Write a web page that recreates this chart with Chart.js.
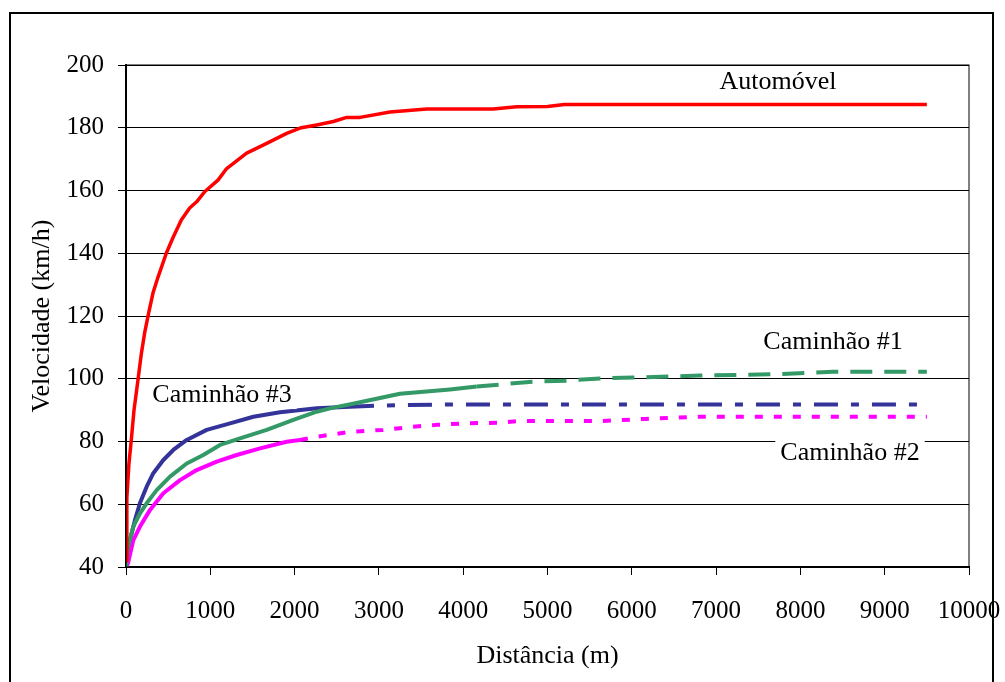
<!DOCTYPE html>
<html>
<head>
<meta charset="utf-8">
<script src="https://cdn.jsdelivr.net/npm/chart.js@4"></script>
<style>
  html, body { margin: 0; padding: 0; background: #fff; }
  #speedChart { display: block; }
</style>
</head>
<body>
<canvas id="speedChart" width="1005" height="682"></canvas>
<script>
// Velocidade x distância: automóvel e três caminhões
const autoDist  = [0, 10, 35, 63, 95, 142, 182, 221, 269, 320, 380, 478, 558, 656, 755, 838, 933, 1091, 1194, 1431, 1669, 1906, 2064, 2262, 2460, 2618, 2776, 3132, 3567, 4354, 4634, 5000, 5200, 9500];
const autoSpeed = [42, 62, 73, 80.5, 90, 99.6, 108, 114.6, 121, 127.3, 132.4, 140, 145, 150.6, 154.4, 156.4, 159.6, 163.3, 167, 171.9, 175, 178.2, 179.9, 180.9, 182, 183.3, 183.3, 185, 186, 186, 186.7, 186.8, 187.4, 187.4];

const cam1Dist  = [0, 20, 87, 166, 245, 364, 522, 720, 917, 1115, 1352, 1669, 1985, 2262, 2457, 2650, 3250, 3843, 4160, 4832, 5228, 5623, 6020, 6809, 7758, 8387, 9500];
const cam1Speed = [40, 46, 52.9, 57.1, 60.3, 64.5, 68.8, 73, 75.7, 78.9, 81, 83.7, 86.9, 89.5, 90.8, 91.8, 95.2, 96.6, 97.5, 99.1, 99.4, 100.1, 100.4, 101, 101.5, 102.2, 102.2];

const cam2Dist  = [5, 25, 87, 166, 285, 443, 641, 838, 1076, 1313, 1590, 1906, 2064, 2262, 2657, 3050, 3405, 3685, 4041, 4437, 4634, 5623, 6157, 6809, 9500];
const cam2Speed = [40, 41.3, 48.6, 52.9, 58.2, 63.5, 67.7, 70.9, 73.6, 75.7, 77.8, 79.9, 80.5, 81.5, 83.1, 83.7, 84.7, 85.3, 85.8, 86, 86.5, 86.5, 87.2, 87.9, 87.9];

const cam3Dist  = [0, 20, 47, 107, 166, 245, 324, 443, 561, 720, 957, 1234, 1511, 1827, 2262, 2657, 3200, 3900, 9500];
const cam3Speed = [40, 45, 48.6, 55, 60.4, 65.6, 69.9, 74.1, 77.3, 80.5, 83.7, 85.8, 87.9, 89.3, 90.6, 91.1, 91.6, 91.8, 91.8];

// rótulos escritos dentro do gráfico
const labelTexts = ["Automóvel", "Caminhão #1", "Caminhão #3", "Caminhão #2"];
const labelDist  = [7734, 8387, 1139, 8588];
const labelSpeed = [194.6, 111.7, 94.8, 76.3];

const yTicks = [40, 60, 80, 100, 120, 140, 160, 180, 200];
const xTicks = [0, 1000, 2000, 3000, 4000, 5000, 6000, 7000, 8000, 9000, 10000];

const FONT = "'Liberation Serif', 'Times New Roman', serif";

function toPoints(xs, ys) {
  return xs.map((x, i) => ({ x, y: ys[i] }));
}

// trecho inicial contínuo, tracejado a partir de "from"
function dashAfter(from, dash) {
  return ctx => (ctx.p0.parsed.x >= from ? dash : undefined);
}

const chartText = {
  id: "chartText",
  beforeDraw(chart) {
    const c = chart.ctx;
    c.save();
    c.fillStyle = "#fff";
    c.fillRect(0, 0, chart.width, chart.height);
    c.restore();
  },
  afterDatasetsDraw(chart) {
    const c = chart.ctx;
    const { x, y } = chart.scales;
    c.save();
    c.font = "26px " + FONT;
    c.textAlign = "center";
    c.textBaseline = "middle";
    labelTexts.forEach((t, i) => {
      const px = x.getPixelForValue(labelDist[i]);
      const py = y.getPixelForValue(labelSpeed[i]);
      const w = c.measureText(t).width;
      c.fillStyle = "#fff";
      c.fillRect(px - w / 2 - 5, py - 14, w + 10, 28);
      c.fillStyle = "#000";
      c.fillText(t, px, py);
    });
    c.restore();
  },
  afterDraw(chart) {
    const c = chart.ctx;
    const a = chart.chartArea;
    c.save();
    c.strokeStyle = "#000";
    c.lineWidth = 1;
    c.strokeRect(a.left, a.top, a.right - a.left, a.bottom - a.top);
    // moldura externa
    c.lineWidth = 2;
    c.strokeRect(10, 13, 983, 700);
    c.restore();
  }
};

new Chart(document.getElementById("speedChart"), {
  type: "line",
  data: {
    datasets: [
      {
        label: "Automóvel",
        data: toPoints(autoDist, autoSpeed),
        borderColor: "#ff0000",
        borderWidth: 3.5
      },
      {
        label: "Caminhão #1",
        data: toPoints(cam1Dist, cam1Speed),
        borderColor: "#339966",
        borderWidth: 4,
        segment: { borderDash: dashAfter(4000, [22, 12]) }
      },
      {
        label: "Caminhão #2",
        data: toPoints(cam2Dist, cam2Speed),
        borderColor: "#ff00ff",
        borderWidth: 4,
        segment: { borderDash: dashAfter(2000, [8, 11]) }
      },
      {
        label: "Caminhão #3",
        data: toPoints(cam3Dist, cam3Speed),
        borderColor: "#333399",
        borderWidth: 4,
        segment: { borderDash: dashAfter(2600, [24, 13, 8, 13]) }
      }
    ]
  },
  options: {
    responsive: false,
    animation: false,
    events: [],
    layout: { padding: { top: 65, right: 36, left: 0, bottom: 0 } },
    elements: {
      point: { radius: 0 },
      line: { tension: 0, borderDash: [], borderCapStyle: "butt", borderJoinStyle: "round" }
    },
    plugins: {
      legend: { display: false },
      tooltip: { enabled: false }
    },
    scales: {
      x: {
        type: "linear",
        min: 0,
        max: 10000,
        afterBuildTicks: s => { s.ticks = xTicks.map(v => ({ value: v })); },
        afterFit: s => { s.height = 115; s.paddingLeft = 0; s.paddingRight = 0; },
        ticks: { color: "#000", font: { family: FONT, size: 25 }, padding: 21, maxRotation: 0, callback: v => String(v) },
        grid: { drawOnChartArea: false, drawTicks: true, tickLength: 8, color: "#000", lineWidth: 1 },
        border: { color: "#000", width: 2 },
        title: {
          display: true,
          text: "Distância (m)",
          color: "#000",
          font: { family: FONT, size: 26 },
          padding: { top: 0, bottom: 10 }
        }
      },
      y: {
        min: 40,
        max: 200,
        afterBuildTicks: s => { s.ticks = yTicks.map(v => ({ value: v })); },
        afterFit: s => { s.width = 126; s.paddingTop = 0; s.paddingBottom = 0; },
        ticks: { color: "#000", font: { family: FONT, size: 25 }, padding: 14, callback: v => String(v) },
        grid: { color: "#000", lineWidth: 1, drawTicks: true, tickLength: 8 },
        border: { color: "#000", width: 2 },
        title: {
          display: true,
          text: "Velocidade (km/h)",
          color: "#000",
          font: { family: FONT, size: 26 },
          padding: { top: 27, bottom: 0 }
        }
      }
    }
  },
  plugins: [chartText]
});
</script>
</body>
</html>
